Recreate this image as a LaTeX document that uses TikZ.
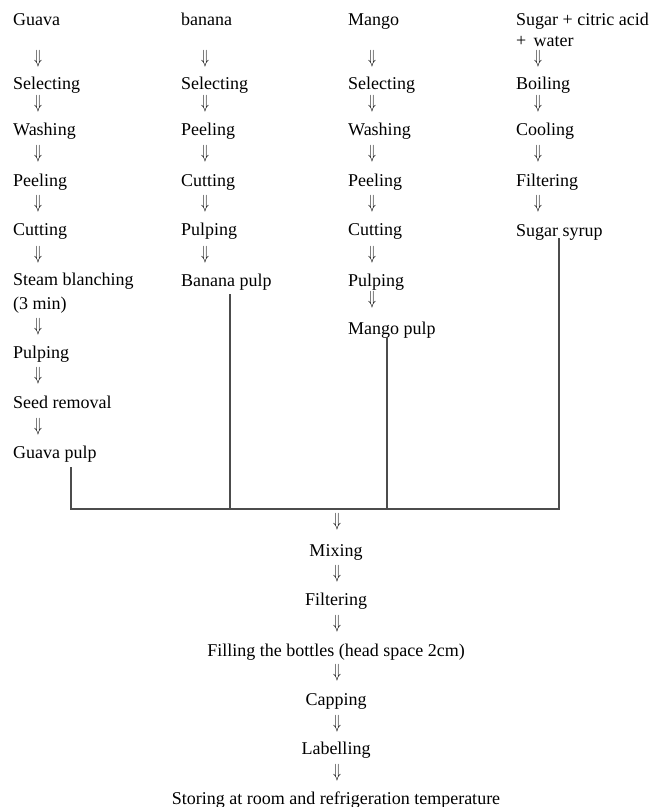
\documentclass[tikz,border=0pt]{standalone}
\usepackage{graphicx}
\usepackage{fontspec}
\setmainfont{Liberation Serif}
\newcommand{\dnarrow}{\scalebox{0.75}[1.1]{$\Downarrow$}}
\begin{document}
\begin{tikzpicture}[x=1pt,y=-1pt,
  txt/.style={anchor=base west, inner sep=0pt, font=\fontsize{18}{21}\selectfont},
  ctxt/.style={anchor=base, inner sep=0pt, font=\fontsize{18}{21}\selectfont},
  darr/.style={anchor=center, inner sep=0pt, font=\fontsize{18}{21}\selectfont},
  link/.style={draw=black!70, line width=1.2pt}]
\useasboundingbox (0,0) rectangle (652,807);
% Guava column
\node[txt] (g0) at (13,25) {Guava};
\node[txt] (g1) at (13,89) {Selecting};
\node[txt] (g2) at (13,135) {Washing};
\node[txt] (g3) at (13,186) {Peeling};
\node[txt] (g4) at (13,235) {Cutting};
\node[txt] (g5) at (13,285) {Steam blanching};
\node[txt] (g5b) at (13,309) {(3 min)};
\node[txt] (g6) at (13,358) {Pulping};
\node[txt] (g7) at (13,408) {Seed removal};
\node[txt] (g8) at (13,458) {Guava pulp};
% Banana column
\node[txt] (b0) at (181,25) {banana};
\node[txt] (b1) at (181,89) {Selecting};
\node[txt] (b2) at (181,135) {Peeling};
\node[txt] (b3) at (181,186) {Cutting};
\node[txt] (b4) at (181,235) {Pulping};
\node[txt] (b5) at (181,286) {Banana pulp};
% Mango column
\node[txt] (m0) at (348,25) {Mango};
\node[txt] (m1) at (348,89) {Selecting};
\node[txt] (m2) at (348,135) {Washing};
\node[txt] (m3) at (348,186) {Peeling};
\node[txt] (m4) at (348,235) {Cutting};
\node[txt] (m5) at (348,286) {Pulping};
\node[txt] (m6) at (348,334) {Mango pulp};
% Sugar column
\node[txt] (s0) at (516,25) {Sugar + citric acid};
\node[txt] (s0b) at (516,46) {+\hspace{0.4em}water};
\node[txt] (s1) at (516,89) {Boiling};
\node[txt] (s2) at (516,135) {Cooling};
\node[txt] (s3) at (516,186) {Filtering};
\node[txt] (s4) at (516,236) {Sugar syrup};
% Bottom chain
\node[ctxt] (c1) at (336,556) {Mixing};
\node[ctxt] (c2) at (336,605) {Filtering};
\node[ctxt] (c3) at (336,656) {Filling the bottles (head space 2cm)};
\node[ctxt] (c4) at (336,705) {Capping};
\node[ctxt] (c5) at (336,754) {Labelling};
\node[ctxt] (c6) at (336,804) {Storing at room and refrigeration temperature};
% double arrows
\foreach \y [count=\i] in {59,104,154,204,255,327,376,427}
  \node[darr] (ga\i) at (38,\y) {\dnarrow};
\foreach \y [count=\i] in {59,104,154,204,255}
  \node[darr] (ba\i) at (205,\y) {\dnarrow};
\foreach \y [count=\i] in {59,104,154,204,255,300}
  \node[darr] (ma\i) at (372,\y) {\dnarrow};
\foreach \y [count=\i] in {59,104,154,204}
  \node[darr] (sa\i) at (538,\y) {\dnarrow};
\foreach \y [count=\i] in {522,574,624,673,724,773}
  \node[darr] (ca\i) at (337,\y) {\dnarrow};
% collector lines
\coordinate (gs) at (71,467);
\coordinate (bs) at (230,294);
\coordinate (ms) at (387,337);
\coordinate (ss) at (559,238);
\coordinate (gj) at (71,509);
\coordinate (bj) at (230,509);
\coordinate (mj) at (387,509);
\coordinate (sj) at (559,509);
\draw[link] (gs) -- (gj) -- (sj) -- (ss);
\draw[link] (bs) -- (bj);
\draw[link] (ms) -- (mj);
\end{tikzpicture}
\end{document}
